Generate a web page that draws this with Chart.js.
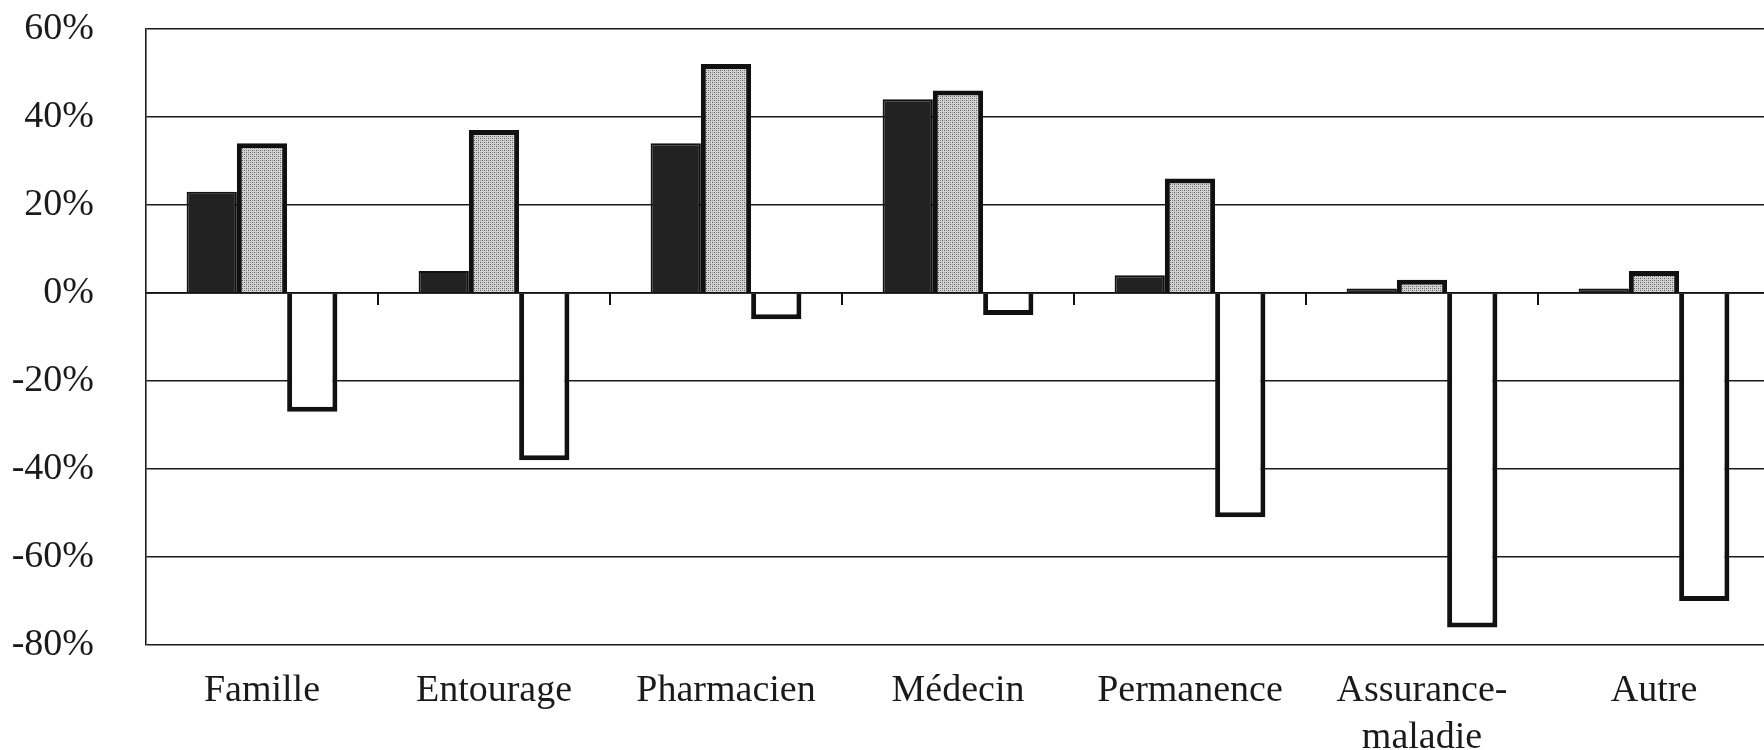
<!DOCTYPE html>
<html lang="fr">
<head>
<meta charset="utf-8">
<title>Recours</title>
<script src="https://cdn.jsdelivr.net/npm/chart.js@4.4.1/dist/chart.umd.min.js"></script>
<style>
  html, body { margin: 0; padding: 0; background: #fff; overflow: hidden; }
  /* canvas is taller than the window and pulled up so the plot top sits at y=28 */
  #wrap { width: 1780px; height: 796px; margin-top: -46px; }
</style>
</head>
<body>
<div id="wrap"><canvas id="chart" width="1780" height="796"></canvas></div>
<script>
const categories = ['Famille', 'Entourage', 'Pharmacien', 'Médecin', 'Permanence', ['Assurance-', 'maladie'], 'Autre'];
const seriesDark = [23, 5, 34, 44, 4, 1, 1];
const seriesDotted = [34, 37, 52, 46, 26, 3, 5];
const seriesWhite = [-27, -38, -6, -5, -51, -76, -70];
const yTicks = [60, 40, 20, 0, -20, -40, -60, -80];

// dotted screen fill for the middle series
function dotPattern() {
  const c = document.createElement('canvas');
  c.width = 4; c.height = 4;
  const g = c.getContext('2d');
  g.fillStyle = '#d2d2d2';
  g.fillRect(0, 0, 4, 4);
  g.fillStyle = '#555';
  g.fillRect(0, 0, 1, 1);
  g.fillRect(2, 2, 1, 1);
  g.fillStyle = '#999';
  g.fillRect(2, 0, 1, 1);
  g.fillRect(0, 2, 1, 1);
  return g.createPattern(c, 'repeat');
}

// small tick marks on the zero line between groups
const zeroTicks = {
  id: 'zeroTicks',
  afterDatasetsDraw(chart) {
    const { ctx, scales: { x, y } } = chart;
    const y0 = y.getPixelForValue(0);
    ctx.save();
    ctx.strokeStyle = '#111';
    ctx.lineWidth = 2;
    for (let i = 0; i < categories.length - 1; i++) {
      const px = (x.getPixelForValue(i) + x.getPixelForValue(i + 1)) / 2;
      ctx.beginPath();
      ctx.moveTo(px, y0);
      ctx.lineTo(px, y0 + 12);
      ctx.stroke();
    }
    // zero line
    ctx.lineWidth = 1.5;
    ctx.beginPath();
    ctx.moveTo(chart.chartArea.left, y0);
    ctx.lineTo(chart.chartArea.right, y0);
    ctx.stroke();
    ctx.restore();
  }
};

const serif = '"Liberation Serif", "DejaVu Serif", serif';

new Chart(document.getElementById('chart'), {
  type: 'bar',
  data: {
    labels: categories,
    datasets: [
      { data: seriesDark, backgroundColor: '#222', borderColor: '#111', borderWidth: 2 },
      { data: seriesDotted, backgroundColor: dotPattern(), borderColor: '#111', borderWidth: 5 },
      { data: seriesWhite, backgroundColor: '#fff', borderColor: '#111', borderWidth: 5 }
    ]
  },
  options: {
    responsive: false,
    animation: false,
    layout: { padding: { top: 28, right: 10, bottom: 0, left: 0 } },
    datasets: {
      bar: { categoryPercentage: 0.65, barPercentage: 1.0 }
    },
    plugins: {
      legend: { display: false },
      tooltip: { enabled: false }
    },
    scales: {
      x: {
        grid: { display: false, drawTicks: false },
        border: { display: false },
        ticks: {
          color: '#1a1a1a',
          font: { family: serif, size: 38, lineHeight: 1.25 },
          padding: 22,
          maxRotation: 0,
          autoSkip: false
        },
        afterFit(scale) { scale.height = 105; }
      },
      y: {
        min: -80,
        max: 60,
        afterBuildTicks(scale) { scale.ticks = yTicks.map(v => ({ value: v })); },
        grid: { color: '#1a1a1a', lineWidth: 1.6, drawTicks: false },
        border: { display: true, color: '#1a1a1a', width: 1.6 },
        ticks: {
          color: '#1a1a1a',
          font: { family: serif, size: 38 },
          padding: 52,
          callback: v => v + '%'
        },
        afterFit(scale) { scale.width = 146; }
      }
    }
  },
  plugins: [zeroTicks]
});
</script>
</body>
</html>
